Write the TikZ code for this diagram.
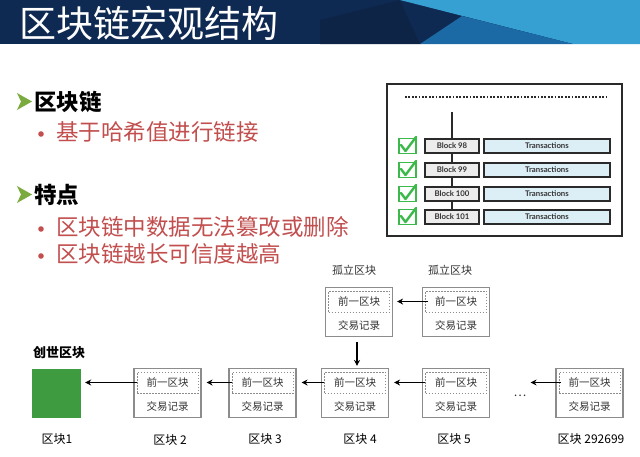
\documentclass[tikz,border=0pt]{standalone}
\usepackage{fontspec}
\setmainfont{Noto Sans CJK SC}
\newfontfamily\latinbold{Lato}
\usetikzlibrary{arrows.meta}
\definecolor{navy}{HTML}{0F2A52}
\definecolor{navydark}{HTML}{0D2446}
\definecolor{skyblue}{HTML}{36A0D3}
\definecolor{midblue}{HTML}{1B6AA5}
\definecolor{bulletred}{HTML}{C24E4E}
\definecolor{arrowgreen}{HTML}{7BAA3E}
\definecolor{genesis}{HTML}{3E9B40}
\definecolor{boxgray}{HTML}{8C8C8C}
\definecolor{txtgray}{HTML}{333333}
\definecolor{chkgreen}{HTML}{3CB94A}
\definecolor{blkfill}{HTML}{ECECEC}
\definecolor{txfill}{HTML}{DCEEF6}
\definecolor{frame}{HTML}{2A2A2A}
\tikzset{
  blk/.style={draw=boxgray, line width=1.1pt, fill=white, minimum width=67pt, minimum height=49pt, inner sep=0pt},
  prevbox/.style={draw=boxgray, line width=0.8pt, dash pattern=on 1.5pt off 1.5pt, minimum width=61pt, minimum height=21pt, inner sep=0pt, font=\fontsize{10.5}{12}\selectfont, text=txtgray},
  txrec/.style={inner sep=0pt, font=\fontsize{10.5}{12}\selectfont, text=txtgray},
  arr/.style={line width=1.1pt, -{Stealth[length=6pt,width=6pt]}},
  blabel/.style={inner sep=0pt, font=\fontsize{12}{14}\selectfont, text=black},
  headtxt/.style={anchor=west, inner sep=0pt, font=\fontsize{22.5}{26}\selectfont\bfseries, text=black},
  subtxt/.style={anchor=west, inner sep=0pt, font=\fontsize{22.5}{26}\selectfont, text=bulletred},
  rowblk/.style={draw=frame, line width=1.6pt, fill=blkfill, minimum width=54pt, minimum height=14pt, inner sep=0pt, font=\latinbold\bfseries\fontsize{7.8}{9}\selectfont, text=txtgray},
  rowtx/.style={draw=frame, line width=1.6pt, fill=txfill, minimum width=126pt, minimum height=14pt, inner sep=0pt, font=\latinbold\bfseries\fontsize{7.8}{9}\selectfont, text=txtgray},
  chk/.style={draw=chkgreen, line width=1.4pt, minimum width=17pt, minimum height=15pt, inner sep=0pt}
}
\begin{document}
\begin{tikzpicture}[x=1pt,y=-1pt]
\useasboundingbox (0,0) rectangle (640,456);
\fill[white] (0,0) rectangle (640,456);
% header
\fill[navy] (0,0) rectangle (640,44);
\fill[navydark] (320,20) -- (400,0) -- (420,44) -- (320,44) -- cycle;
\fill[skyblue] (400,0) -- (640,0) -- (640,44) -- (573,44) -- cycle;
\fill[midblue] (420,44) -- (462,16) -- (573,44) -- cycle;
\node[anchor=west, inner sep=0pt, text=white, font=\fontsize{37}{40}\selectfont] (title) at (19,23) {区块链宏观结构};
% bullets
\fill[arrowgreen] (17,93) -- (32,101.5) -- (17,110) -- (21,101.5) -- cycle;
\node[headtxt] (h1) at (34,102) {区块链};
\fill[bulletred] (41,134) circle (2.8);
\node[subtxt] (s1) at (56,132) {基于哈希值进行链接};
\fill[arrowgreen] (17,186) -- (32,194.5) -- (17,203) -- (21,194.5) -- cycle;
\node[headtxt] (h2) at (34,195) {特点};
\fill[bulletred] (41,229) circle (2.8);
\node[subtxt] (s2) at (56,227) {区块链中数据无法篡改或删除};
\fill[bulletred] (41,256) circle (2.8);
\node[subtxt] (s3) at (56,254) {区块链越长可信度越高};
% right picture
\draw[frame, line width=2pt] (387,84) rectangle (622,236);
\draw[frame, line width=2pt, dash pattern=on 1.8pt off 1.6pt] (405,97) -- (608,97);
\draw[frame, line width=2pt] (452,112) -- (452,217);
\foreach \y/\n in {146/98,170/99,194/100,217/101}{
  \node[rowblk] (rb\n) at (452,\y) {Block \n};
  \node[rowtx] (rt\n) at (547,\y) {Transactions};
  \node[chk] (ck\n) at (407.5,\y) {};
  \draw[chkgreen, line width=2.4pt, line cap=round, line join=round] (401,\y-1) -- (405.5,\y+5) -- (416,\y-9);
}
% bottom chain
\node[fill=genesis, minimum size=49pt, inner sep=0pt] (g) at (56.5,393) {};
\node[inner sep=0pt, font=\fontsize{13}{15}\selectfont\bfseries] (glabel) at (59,353) {创世区块};
\foreach \nm/\x/\y in {b2/167.5/393, b3/262.5/393, b4/355/393, b5/456/393, bn/589.5/393, o1/359/312, o2/456/312}{
  \node[blk] (\nm) at (\x,\y) {};
  \node[prevbox] (\nm p) at (\x,\y-10.5) {前一区块};
  \node[txrec] (\nm t) at (\x,\y+13.5) {交易记录};
}
\node[inner sep=0pt, font=\fontsize{11}{13}\selectfont, text=txtgray] (ol1) at (354,270) {孤立区块};
\node[inner sep=0pt, font=\fontsize{11}{13}\selectfont, text=txtgray] (ol2) at (450,270) {孤立区块};
\node[inner sep=0pt, font=\fontsize{12}{14}\selectfont, text=txtgray] (dots) at (520,396) {…};
% arrow end points, level with the source
\path (b2p.west -| g.east) ++(4,0) coordinate (e1);
\path (b3p.west -| b2.east) ++(5,0) coordinate (e2);
\path (b4p.west -| b3.east) ++(5,0) coordinate (e3);
\path (b5p.west -| b4.east) ++(5,0) coordinate (e4);
\path (o2p.west -| o1.east) ++(4,0) coordinate (e6);
\path (bnp.west) ++(-28,0) coordinate (dotsend);
\draw[arr] (b2p.west) -- (e1);
\draw[arr] (b3p.west) -- (e2);
\draw[arr] (b4p.west) -- (e3);
\draw[arr] (b5p.west) -- (e4);
\draw[arr] ([xshift=2pt]bnp.west) -- (dotsend);
\draw[arr] ([xshift=3pt]o2p.west) -- (e6);
\draw[arr] ([xshift=-2pt,yshift=-5pt]o1.south) -- ([xshift=2pt,yshift=2pt]b4.north);
% labels
\node[blabel] (l1) at (57,439) {区块1};
\node[blabel] (l2) at (170,440) {区块 2};
\node[blabel] (l3) at (265,439) {区块 3};
\node[blabel] (l4) at (360,439) {区块 4};
\node[blabel] (l5) at (454,439) {区块 5};
\node[blabel] (ln) at (591,439) {区块 292699};
\end{tikzpicture}
\end{document}
